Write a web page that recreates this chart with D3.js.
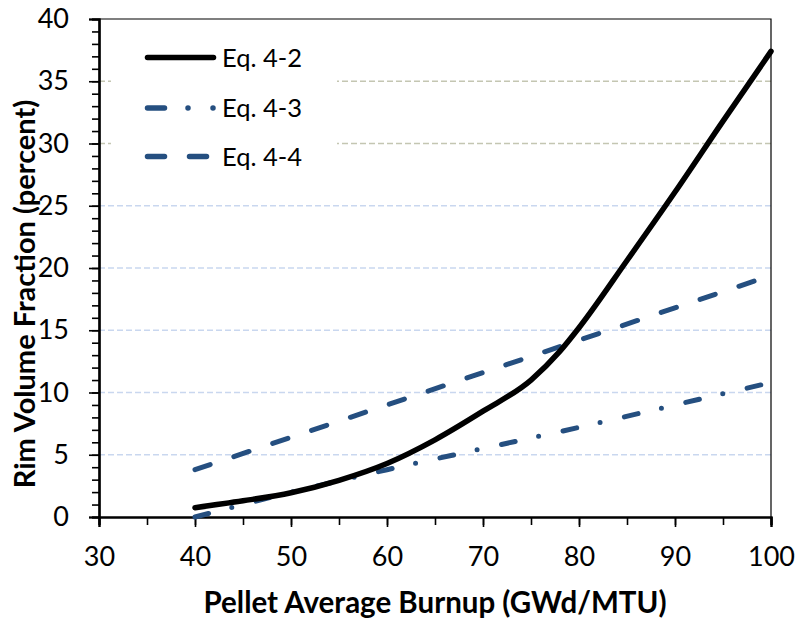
<!DOCTYPE html>
<html>
<head>
<meta charset="utf-8">
<script src="https://cdn.jsdelivr.net/npm/d3@7"></script>
<style>
  body { margin: 0; background: #fff; }
  svg text { font-family: Lato, "Open Sans", sans-serif; fill: #000; }
</style>
</head>
<body>
<div id="chart"></div>
<script>
// values
var burnup_eq42   = [40, 45, 50, 55, 60, 65, 70, 75, 78, 80, 85, 90, 95, 100];
var rim_eq42      = [0.75, 1.3, 1.95, 2.95, 4.3, 6.2, 8.5, 11.0, 13.3, 15.2, 20.6, 26.1, 31.8, 37.4];
var burnup_eq43   = [40, 45, 50, 55, 60, 70, 80, 90, 100];
var rim_eq43      = [0, 1.0, 2.0, 2.9, 3.8, 5.5, 7.2, 9.0, 10.8];
var burnup_eq44   = [40, 60, 80, 100];
var rim_eq44      = [3.8, 9.0, 14.2, 19.4];
var series_names  = ["Eq. 4-2", "Eq. 4-3", "Eq. 4-4"];
var x_ticks       = [30, 40, 50, 60, 70, 80, 90, 100];
var y_ticks       = [0, 5, 10, 15, 20, 25, 30, 35, 40];

var width_chart  = 799;
var height_chart = 624;
var margin_chart = {top: 19, right: 28, bottom: 107, left: 99};
var plot_w = width_chart - margin_chart.left - margin_chart.right;
var plot_h = height_chart - margin_chart.top - margin_chart.bottom;
var blue_line = "#254f80";

var x_chart = d3.scaleLinear().domain([30, 100]).range([0, plot_w]);
var y_chart = d3.scaleLinear().domain([0, 40]).range([plot_h, 0]);

var svg_chart = d3.select("#chart").append("svg")
  .attr("width", width_chart)
  .attr("height", height_chart);

var g_chart = svg_chart.append("g")
  .attr("transform", "translate(" + margin_chart.left + "," + margin_chart.top + ")");

// dashed gridlines, the upper two are greyer
g_chart.append("g").selectAll("line")
  .data(y_ticks.filter(function (d) { return d > 0 && d < 40; }))
  .enter().append("line")
  .attr("x1", 0)
  .attr("x2", plot_w)
  .attr("y1", function (d) { return y_chart(d); })
  .attr("y2", function (d) { return y_chart(d); })
  .style("stroke", function (d) { return d >= 30 ? "#c4c6b2" : "#c9d7ef"; })
  .style("stroke-width", 1.3)
  .style("stroke-dasharray", "6,3");

// frame top / right
g_chart.append("path")
  .attr("d", "M0,0H" + plot_w + "V" + plot_h)
  .style("fill", "none")
  .style("stroke", "#000")
  .style("stroke-width", 1.2);

// minor ticks
g_chart.append("g")
  .attr("class", "minor")
  .call(d3.axisLeft(y_chart).tickValues(d3.range(0, 41, 1)).tickSize(7).tickFormat(""));
g_chart.append("g")
  .attr("class", "minor")
  .attr("transform", "translate(0," + plot_h + ")")
  .call(d3.axisBottom(x_chart).tickValues(d3.range(30, 101, 5)).tickSize(8).tickFormat(""));

var axis_y = g_chart.append("g")
  .call(d3.axisLeft(y_chart).tickValues(y_ticks).tickSize(10).tickPadding(20));
var axis_x = g_chart.append("g")
  .attr("transform", "translate(0," + plot_h + ")")
  .call(d3.axisBottom(x_chart).tickValues(x_ticks).tickSize(10).tickPadding(20));

svg_chart.selectAll(".domain").style("stroke", "#000").style("stroke-width", 2.2);
svg_chart.selectAll(".tick line").style("stroke", "#000").style("stroke-width", 1.6);
svg_chart.selectAll(".tick text").style("font-size", "27px").style("font-family", "Lato");

// legend background hides the gridlines behind it
g_chart.append("rect")
  .attr("x", 12)
  .attr("y", 12)
  .attr("width", 226)
  .attr("height", 160)
  .style("fill", "#fff");

var line_chart = d3.line()
  .curve(d3.curveMonotoneX)
  .x(function (d) { return x_chart(d[0]); })
  .y(function (d) { return y_chart(d[1]); });

g_chart.append("path")
  .datum(d3.zip(burnup_eq44, rim_eq44))
  .attr("d", line_chart)
  .style("fill", "none")
  .style("stroke", blue_line)
  .style("stroke-width", 5)
  .style("stroke-linecap", "round")
  .style("stroke-dasharray", "16,25");

g_chart.append("path")
  .datum(d3.zip(burnup_eq43, rim_eq43))
  .attr("d", line_chart)
  .style("fill", "none")
  .style("stroke", blue_line)
  .style("stroke-width", 5)
  .style("stroke-linecap", "round")
  .style("stroke-dasharray", "14,24,0,25");

g_chart.append("path")
  .datum(d3.zip(burnup_eq42, rim_eq42))
  .attr("d", line_chart)
  .style("fill", "none")
  .style("stroke", "#000")
  .style("stroke-width", 5.5)
  .style("stroke-linecap", "round");

// legend
var legend_rows = [
  {name: series_names[0], color: "#000", dash: null, y: 57.5},
  {name: series_names[1], color: blue_line, dash: "17,23.5,0,25,0,100", y: 108},
  {name: series_names[2], color: blue_line, dash: "17,25", y: 156.5}
];
var legend = svg_chart.append("g").selectAll("g")
  .data(legend_rows)
  .enter().append("g");
legend.append("line")
  .attr("x1", 147.5)
  .attr("x2", 213.5)
  .attr("y1", function (d) { return d.y; })
  .attr("y2", function (d) { return d.y; })
  .style("stroke", function (d) { return d.color; })
  .style("stroke-width", 5.5)
  .style("stroke-linecap", "round")
  .style("stroke-dasharray", function (d) { return d.dash; });
legend.append("text")
  .attr("x", 222)
  .attr("y", function (d) { return d.y; })
  .attr("dy", "0.36em")
  .style("font-size", "25.5px")
  .text(function (d) { return d.name; });

// axis titles
svg_chart.append("text")
  .attr("x", 435)
  .attr("y", 613)
  .attr("text-anchor", "middle")
  .style("font-size", "29.5px")
  .style("font-weight", "bold")
  .text("Pellet Average Burnup (GWd/MTU)");

svg_chart.append("text")
  .attr("transform", "translate(35,294) rotate(-90)")
  .attr("text-anchor", "middle")
  .style("font-size", "29px")
  .style("font-weight", "bold")
  .text("Rim Volume Fraction (percent)");
</script>
</body>
</html>
